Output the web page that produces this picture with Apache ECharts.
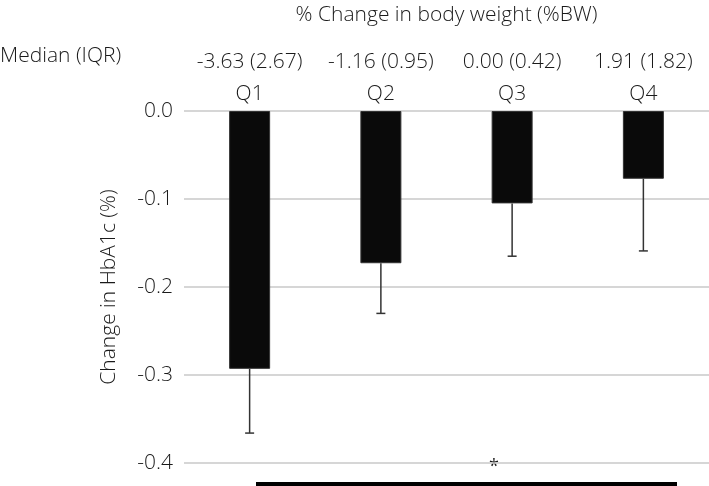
<!DOCTYPE html>
<html>
<head>
<meta charset="utf-8">
<script src="https://cdn.jsdelivr.net/npm/echarts@6/dist/echarts.min.js"></script>
<style>html,body{margin:0;padding:0;background:#fff}#c{width:709px;height:486px}</style>
</head>
<body>
<div id="c"></div>
<script>
const categories = ['Q1', 'Q2', 'Q3', 'Q4'];
const medianLabels = ['-3.63 (2.67)', '-1.16 (0.95)', '0.00 (0.42)', '1.91 (1.82)'];
const hba1cChange = [-0.293, -0.173, -0.105, -0.077];
const errorLower = [-0.366, -0.230, -0.165, -0.159];
const yTicks = [0, -0.1, -0.2, -0.3, -0.4];

const FONT = '"Open Sans", "Noto Sans", sans-serif';
const TXT = '#1a1a1a';
const FS = 21;

const chart = echarts.init(document.getElementById('c'), null, {renderer: 'canvas'});
chart.setOption({
  animation: false,
  backgroundColor: '#fff',
  textStyle: {fontFamily: FONT},
  grid: {left: 184, right: 0, top: 110, bottom: 23, containLabel: false},
  graphic: [
    {type: 'text', left: 0, top: 46, style: {text: 'Median (IQR)', fontFamily: FONT, fontSize: FS, fontWeight: 300, fill: TXT}},
    {type: 'rect', shape: {x: 256, y: 482, width: 421, height: 8}, style: {fill: '#000'}},
    {type: 'text', x: 494, y: 467, style: {text: '*', fontFamily: FONT, fontSize: 18, fill: TXT, align: 'center', verticalAlign: 'middle'}}
  ],
  xAxis: [
    {
      type: 'category', data: categories, position: 'top',
      axisLine: {show: false}, axisTick: {show: false}, splitLine: {show: false},
      axisLabel: {interval: 0, fontSize: FS, fontWeight: 300, color: TXT, margin: 6, fontFamily: FONT}
    },
    {
      type: 'category', data: medianLabels, position: 'top', offset: 31,
      axisLine: {show: false}, axisTick: {show: false}, splitLine: {show: false},
      axisLabel: {interval: 0, fontSize: FS, fontWeight: 300, color: TXT, margin: 7, fontFamily: FONT},
      name: '% Change in body weight (%BW)', nameLocation: 'middle', nameGap: 54,
      nameTextStyle: {fontSize: FS, fontWeight: 300, color: TXT, fontFamily: FONT}
    }
  ],
  yAxis: {
    type: 'value', min: -0.4, max: 0, interval: 0.1,
    axisLine: {show: false}, axisTick: {show: false},
    splitLine: {show: true, lineStyle: {color: '#c8c8c8', width: 1.5}},
    axisLabel: {fontSize: FS, fontWeight: 300, color: TXT, margin: 11, fontFamily: FONT,
      formatter: v => (Math.abs(v) < 1e-9 ? 0 : v).toFixed(1)},
    name: 'Change in HbA1c (%)', nameLocation: 'middle', nameGap: 64, nameRotate: 90,
    nameTextStyle: {fontSize: FS, fontWeight: 300, color: TXT, fontFamily: FONT}
  },
  series: [
    {
      type: 'bar', data: hba1cChange, barWidth: 41, xAxisIndex: 0,
      itemStyle: {color: '#0a0a0a', borderColor: '#333', borderWidth: 1}
    },
    {
      type: 'custom', xAxisIndex: 0, z: 5,
      data: hba1cChange.map((v, i) => [i, v, errorLower[i]]),
      renderItem: function (params, api) {
        const top = api.coord([api.value(0), api.value(1)]);
        const bot = api.coord([api.value(0), api.value(2)]);
        const style = {stroke: '#333', lineWidth: 1.5};
        return {type: 'group', children: [
          {type: 'line', shape: {x1: top[0], y1: top[1], x2: bot[0], y2: bot[1]}, style: style},
          {type: 'line', shape: {x1: bot[0] - 4.5, y1: bot[1], x2: bot[0] + 4.5, y2: bot[1]}, style: style}
        ]};
      }
    }
  ]
});
</script>
</body>
</html>
